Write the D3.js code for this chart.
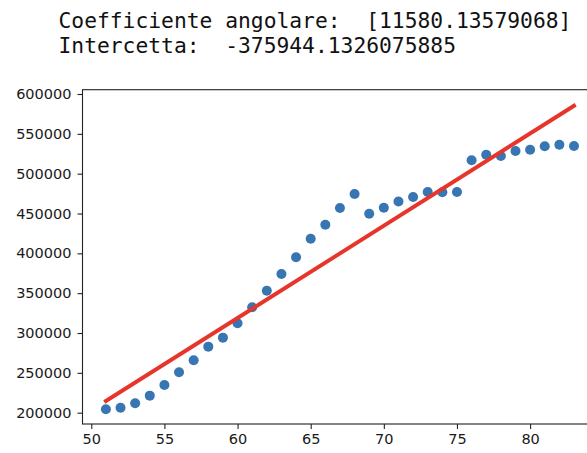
<!DOCTYPE html>
<html>
<head>
<meta charset="utf-8">
<script src="https://cdn.jsdelivr.net/npm/d3@7"></script>
<style>
  html, body { margin: 0; padding: 0; background: #fff; }
  svg { display: block; overflow: hidden; }
</style>
</head>
<body>
<svg id="chart" width="587" height="453"></svg>
<script>
// ---- data ----
const headerLines = [
  "Coefficiente angolare:  [11580.13579068]",
  "Intercetta:  -375944.1326075885"
];
const ages = [51, 52, 53, 54, 55, 56, 57, 58, 59, 60, 61, 62, 63, 64, 65, 66, 67,
              68, 69, 70, 71, 72, 73, 74, 75, 76, 77, 78, 79, 80, 81, 82, 83];
const values = [204300, 206300, 211800, 221400, 234800, 250700, 265800, 282900, 294200,
                312200, 332300, 353100, 374100, 395100, 418400, 436000, 456900, 474500,
                449800, 457300, 465100, 470700, 477000, 476600, 477000, 516800, 523800,
                522200, 528500, 530100, 534400, 536400, 534700];
const slope = 11580.13579068;
const intercept = -375944.1326075885;
const xTicks = [50, 55, 60, 65, 70, 75, 80];
const yTicks = [200000, 250000, 300000, 350000, 400000, 450000, 500000, 550000, 600000];

(function () {
// ---- layout ----
const svg = d3.select("#chart");
const pLeft = 82.5, pRight = 597.4, pTop = 89.7, pBottom = 424;

const x = d3.scaleLinear().domain([49.4, 84.6]).range([pLeft, pRight]);
const y = d3.scaleLinear().domain([185800, 605400]).range([pBottom, pTop]);

// header text (monospace output)
svg.selectAll("text.hdr").data(headerLines).enter().append("text")
  .attr("class", "hdr")
  .attr("x", 58.5)
  .attr("y", (d, i) => 27.7 + i * 25.6)
  .attr("font-family", "'DejaVu Sans Mono', monospace")
  .attr("font-size", 21.3)
  .attr("fill", "#111")
  .attr("xml:space", "preserve")
  .style("white-space", "pre")
  .text(d => d);

// axes
const tickFont = "'DejaVu Sans', sans-serif";
const xAxis = svg.append("g").attr("transform", `translate(0,${pBottom})`)
  .call(d3.axisBottom(x).tickValues(xTicks).tickFormat(d3.format("d")).tickSize(5).tickPadding(5).tickSizeOuter(0));
const yAxis = svg.append("g").attr("transform", `translate(${pLeft},0)`)
  .call(d3.axisLeft(y).tickValues(yTicks).tickFormat(d3.format("d")).tickSize(5).tickPadding(6).tickSizeOuter(0));
[xAxis, yAxis].forEach(g => {
  g.select(".domain").remove();
  g.selectAll(".tick line").attr("stroke", "#222").attr("stroke-width", 1.1);
  g.selectAll(".tick text").attr("font-family", tickFont).attr("font-size", 14.5).attr("fill", "#1a1a1a");
});

// spines
svg.append("rect")
  .attr("x", pLeft).attr("y", pTop)
  .attr("width", pRight - pLeft).attr("height", pBottom - pTop)
  .attr("fill", "none").attr("stroke", "#222").attr("stroke-width", 1.1);

// points
const pts = ages.map((a, i) => ({ a, v: values[i] }));
svg.append("g").selectAll("circle").data(pts).enter().append("circle")
  .attr("cx", d => x(d.a))
  .attr("cy", d => y(d.v))
  .attr("r", 5)
  .attr("fill", "#3776b2");

// regression line
const ends = [d3.min(ages), d3.max(ages)].map(a => ({ a, v: slope * a + intercept }));
svg.append("path")
  .datum(ends)
  .attr("d", d3.line().x(d => x(d.a)).y(d => y(d.v)))
  .attr("fill", "none")
  .attr("stroke", "#e6352b")
  .attr("stroke-width", 3.9)
  .attr("stroke-linecap", "square");
})();
</script>
</body>
</html>
